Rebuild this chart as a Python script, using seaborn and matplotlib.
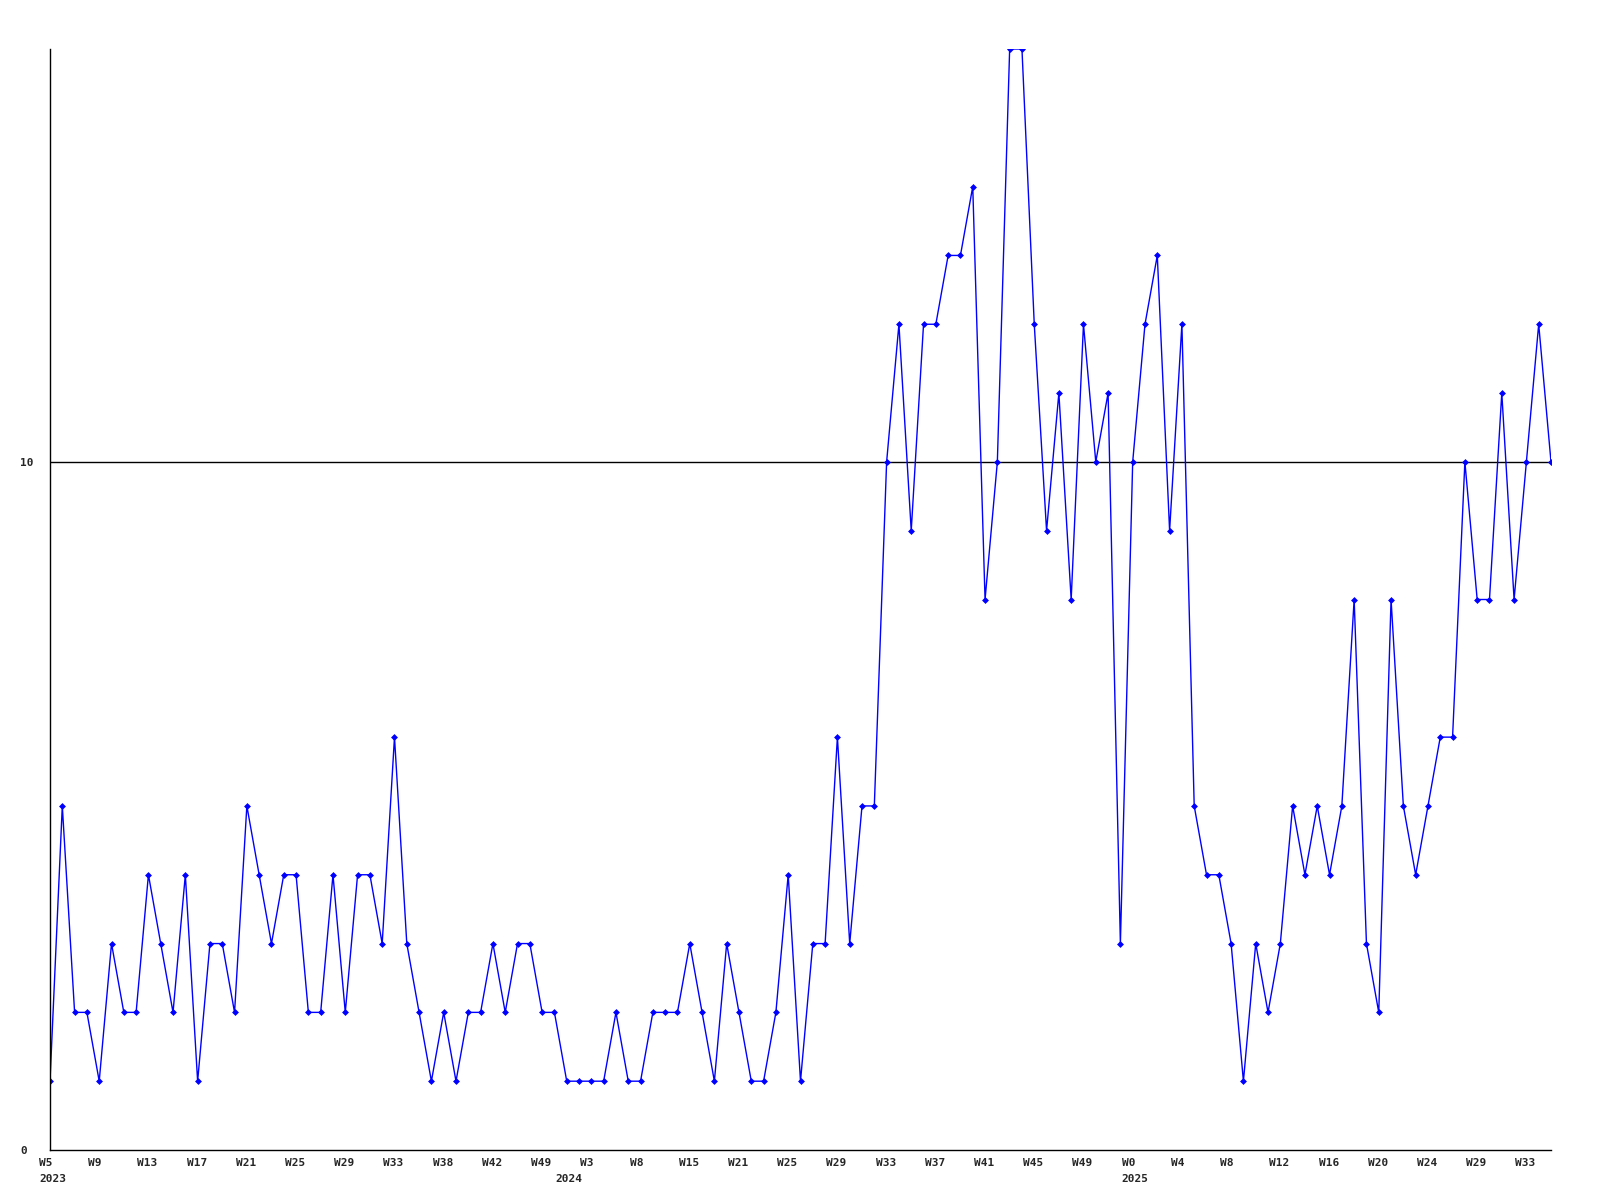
import matplotlib
matplotlib.use("Agg")
import matplotlib.pyplot as plt
import matplotlib.transforms as mtransforms
import seaborn as sns
import pandas as pd

# weekly counts, one value per week from W5 2023 onward
counts = [
    1, 5, 2, 2, 1, 3, 2, 2, 4, 3, 2, 4, 1, 3, 3, 2, 5, 4, 3, 4,
    4, 2, 2, 4, 2, 4, 4, 3, 6, 3, 2, 1, 2, 1, 2, 2, 3, 2, 3, 3,
    2, 2, 1, 1, 1, 1, 2, 1, 1, 2, 2, 2, 3, 2, 1, 3, 2, 1, 1, 2,
    4, 1, 3, 3, 6, 3, 5, 5, 10, 12, 9, 12, 12, 13, 13, 14, 8, 10, 16, 16,
    12, 9, 11, 8, 12, 10, 11, 3, 10, 12, 13, 9, 12, 5, 4, 4, 3, 1, 3, 2,
    3, 5, 4, 5, 4, 5, 8, 3, 2, 8, 5, 4, 5, 6, 6, 10, 8, 8, 11, 8,
    10, 12, 10,
]

# x labels shown every 4th point
week_labels = [
    "W5", "W9", "W13", "W17", "W21", "W25", "W29", "W33", "W38", "W42", "W49",
    "W3", "W8", "W15", "W21", "W25", "W29", "W33", "W37", "W41", "W45", "W49",
    "W0", "W4", "W8", "W12", "W16", "W20", "W24", "W29", "W33",
]
label_step = 4

# year labels and the point they sit under
years = ["2023", "2024", "2025"]
year_pos = [0, 42, 88]

y_ticks = [0, 10]
y_max = 16

df = pd.DataFrame({"idx": range(len(counts)), "count": counts})

sns.set_style("white")
plt.rcParams["font.family"] = ["DejaVu Sans Mono"]
plt.rcParams["font.weight"] = "bold"

fig = plt.figure(figsize=(16, 12), dpi=100)
ax = fig.add_axes([50 / 1600, 1 - 1150 / 1200, (1551 - 50) / 1600, (1150 - 49) / 1200])

sns.lineplot(data=df, x="idx", y="count", ax=ax, color="#0000ff", linewidth=1,
             marker="D", markersize=3, markeredgewidth=0.5, markeredgecolor="#0000ff")

ax.set_xlim(0, len(counts) - 1)
ax.set_ylim(0, y_max)

for s in ["top", "right"]:
    ax.spines[s].set_visible(False)
for s in ["left", "bottom"]:
    ax.spines[s].set_color("black")
    ax.spines[s].set_linewidth(1)

ax.grid(False)
for yv in y_ticks[1:]:
    ax.axhline(yv, color="black", linewidth=1, zorder=0)

ax.set_xlabel("")
ax.set_ylabel("")

# year labels share positions with week labels, keep both
ax.xaxis.remove_overlapping_locs = False

ax.tick_params(axis="both", which="both", length=0, labelsize=8)
ax.tick_params(axis="x", which="major", pad=6)
ax.tick_params(axis="x", which="minor", pad=17)
ax.tick_params(axis="y", pad=21.3)

shift = mtransforms.ScaledTranslation(-11 / 100, 0, fig.dpi_scale_trans)

ax.set_xticks([i * label_step for i in range(len(week_labels))])
ax.set_xticklabels(week_labels, fontweight="bold")
ax.set_xticks(year_pos, minor=True)
ax.set_xticklabels(years, minor=True, fontweight="bold")
for lab in ax.get_xticklabels() + ax.get_xticklabels(minor=True):
    lab.set_horizontalalignment("left")
    lab.set_transform(lab.get_transform() + shift)

ax.set_yticks(y_ticks)
ax.set_yticklabels([str(v) for v in y_ticks], fontweight="bold")
for lab in ax.get_yticklabels():
    lab.set_horizontalalignment("left")

fig.savefig("out.png", dpi=100, facecolor="white")
plt.close(fig)
